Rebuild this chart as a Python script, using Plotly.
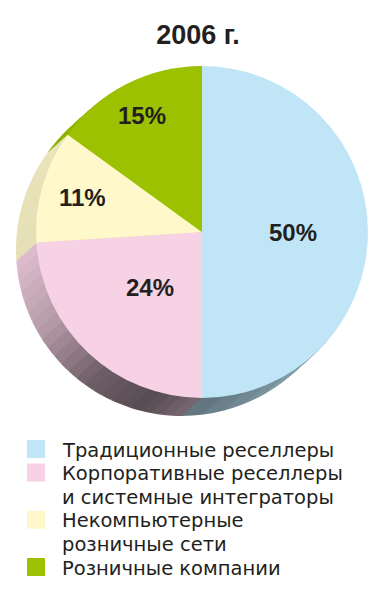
import plotly.graph_objects as go
import numpy as np

# ---------------- data ----------------
title_text = "2006 г."
categories = [
    "Традиционные реселлеры",
    "Корпоративные реселлеры и системные интеграторы",
    "Некомпьютерные розничные сети",
    "Розничные компании",
]
legend_lines = [
    ["Традиционные реселлеры"],
    ["Корпоративные реселлеры", "и системные интеграторы"],
    ["Некомпьютерные", "розничные сети"],
    ["Розничные компании"],
]
shares = [50, 24, 11, 15]

# ---------------- style ----------------
colors = ["#c0e5f7", "#f6d2e4", "#fff8cb", "#9bc100"]
W, H = 385, 600
CX, CY, R = 202, 232, 166          # front face centre / radius (px)
DEPTH_DX, DEPTH_DY = -20, 18       # extrusion offset (px)
N_LAYERS = 16
N_SUB = 24
# side-wall shading by compass angle (deg, clockwise from 12 o'clock)
shade_ang = [0, 120, 150, 180, 195, 215, 240, 265, 320, 360]
shade_fac = [0.93, 0.8, 0.66, 0.5, 0.36, 0.45, 0.74, 0.9, 0.93, 0.93]
label_rfrac = [0.55, 0.46, 0.75, 0.79]   # radial placement of % labels
TEXT_COLOR = "#231f20"


def hex_rgb(h):
    h = h.lstrip("#")
    return [int(h[i:i + 2], 16) for i in (0, 2, 4)]


def shade(h, f):
    r, g, b = hex_rgb(h)
    return "rgb(%d,%d,%d)" % (r * f, g * f, b * f)


def dom(cx, cy, r):
    return dict(x=[(cx - r) / W, (cx + r) / W], y=[(H - cy - r) / H, (H - cy + r) / H])


total = float(sum(shares))
side_vals, side_cols, mids = [], [], []
start = 0.0
for v, c in zip(shares, colors):
    span = 360.0 * v / total
    mids.append(start + span / 2)
    for j in range(N_SUB):
        mid = start + (j + 0.5) * span / N_SUB
        side_vals.append(v / N_SUB)
        side_cols.append(shade(c, float(np.interp(mid, shade_ang, shade_fac))))
    start += span

fig = go.Figure()

# extrusion layers (deepest first)
for k in range(N_LAYERS, 0, -1):
    t = k / N_LAYERS
    fig.add_trace(go.Pie(
        values=side_vals,
        marker=dict(colors=side_cols, line=dict(width=0)),
        sort=False, direction="clockwise", rotation=0,
        textinfo="none", hoverinfo="skip", showlegend=False,
        domain=dom(CX + DEPTH_DX * t, CY + DEPTH_DY * t, R),
    ))

# front face
fig.add_trace(go.Pie(
    labels=categories,
    values=shares,
    marker=dict(colors=colors, line=dict(width=0)),
    sort=False, direction="clockwise", rotation=0,
    textinfo="none",
    hovertemplate="%{label}: %{value}%<extra></extra>",
    showlegend=False,
    domain=dom(CX, CY, R),
))

# percentage labels placed along each slice's bisector
for v, m, rf in zip(shares, mids, label_rfrac):
    th = np.radians(m)
    x = CX + rf * R * np.sin(th)
    y = CY - rf * R * np.cos(th)
    fig.add_annotation(x=x / W, y=(H - y) / H, xref="paper", yref="paper",
                       xanchor="center", yanchor="middle", showarrow=False,
                       text="<b>%d%%</b>" % v,
                       font=dict(family="Liberation Sans", size=24, color=TEXT_COLOR))

# manual legend
LEG_X_SQ, LEG_X_TXT, LEG_Y0, LEG_STEP, SQ = 27, 60, 450, 23.6, 18
line_idx = 0
for lines, c in zip(legend_lines, colors):
    yc = LEG_Y0 + line_idx * LEG_STEP
    fig.add_shape(type="rect", xref="paper", yref="paper",
                  x0=LEG_X_SQ / W, x1=(LEG_X_SQ + SQ) / W,
                  y0=(H - (yc - 1 + SQ / 2)) / H, y1=(H - (yc - 1 - SQ / 2)) / H,
                  fillcolor=c, line=dict(width=0), layer="above")
    for ln in lines:
        yc = LEG_Y0 + line_idx * LEG_STEP
        fig.add_annotation(x=LEG_X_TXT / W, y=(H - yc) / H, xref="paper", yref="paper",
                           xanchor="left", yanchor="middle", showarrow=False,
                           text=ln, font=dict(family="DejaVu Sans", size=19.5, color=TEXT_COLOR))
        line_idx += 1

fig.update_layout(
    width=W, height=H,
    margin=dict(l=0, r=0, t=0, b=0),
    paper_bgcolor="white", plot_bgcolor="white",
    title=dict(text="<b>" + title_text + "</b>", x=198 / W, xanchor="center",
               y=(H - 35) / H, yanchor="middle",
               font=dict(family="Liberation Sans", size=27, color=TEXT_COLOR)),
    showlegend=False,
)

fig.write_html("out.html", config={"displayModeBar": False},
               post_script="document.body.style.margin='0';")
